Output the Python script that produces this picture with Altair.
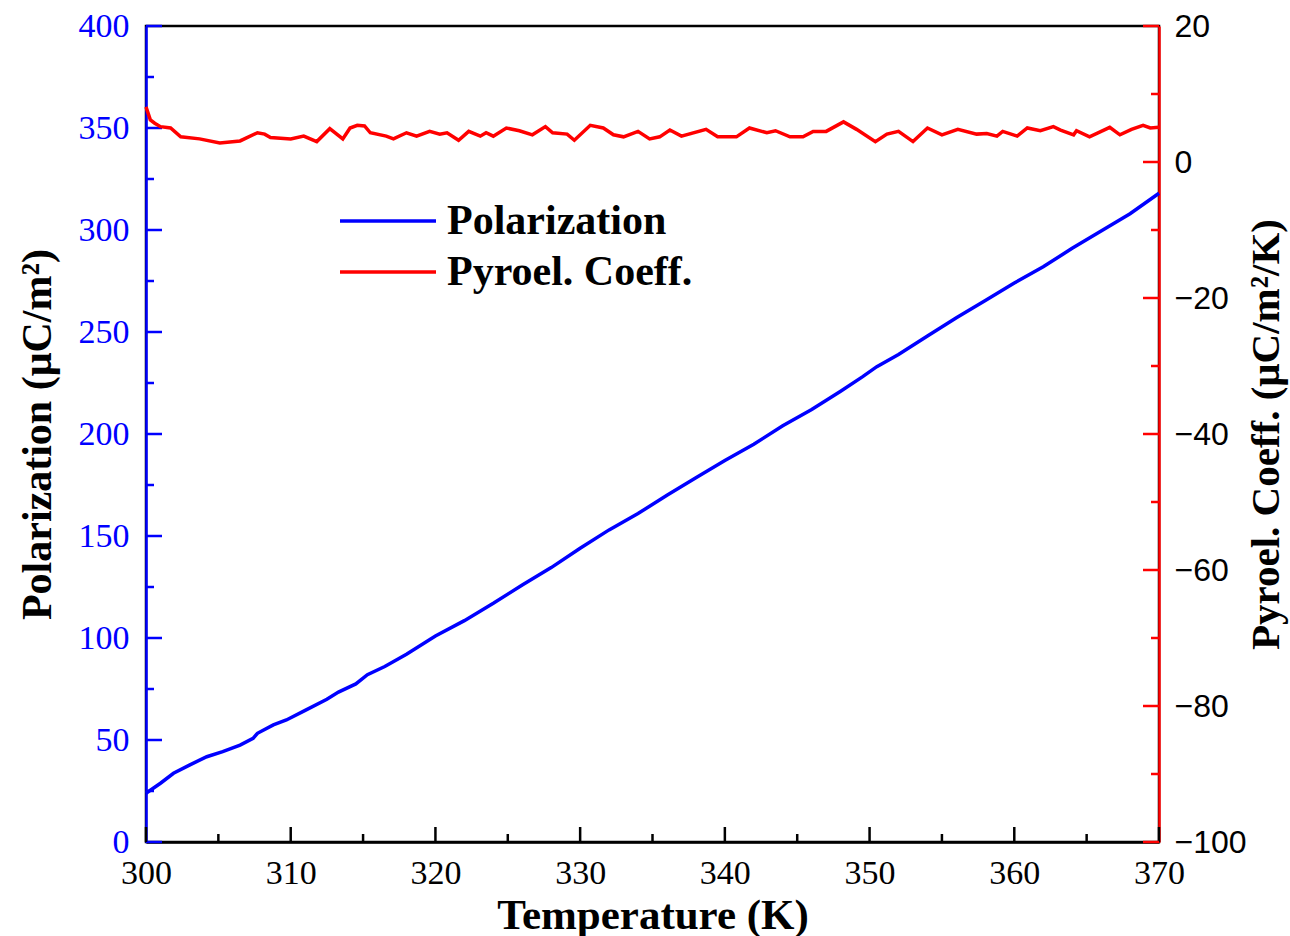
import altair as alt
import pandas as pd

# ---- data ----
temp_pol = [300.0, 301.0, 301.9, 303.0, 304.2, 305.3, 306.5, 307.4, 307.7, 308.8,
            309.7, 311.0, 312.5, 313.3, 314.5, 315.3, 316.5, 318.0, 320.0, 322.0,
            324.0, 326.0, 328.0, 330.0, 332.0, 334.0, 336.0, 338.0, 340.0, 342.0,
            344.0, 346.0, 348.0, 349.5, 350.5, 352.0, 354.0, 356.0, 358.0, 360.0,
            362.0, 364.0, 366.0, 368.0, 370.0]
polarization = [23.9, 28.8, 33.7, 37.7, 41.8, 44.3, 47.5, 50.8, 53.3, 57.4,
                59.8, 64.5, 70.0, 73.5, 77.5, 82.0, 86.0, 92.0, 101.0, 108.5,
                117.0, 126.0, 134.5, 144.0, 153.0, 161.0, 170.0, 178.5, 187.0, 195.0,
                204.0, 212.0, 221.0, 228.0, 233.0, 239.0, 248.0, 257.0, 265.5, 274.0,
                282.0, 291.0, 299.5, 308.0, 318.0]

temp_pyro = [300.0, 300.3, 300.6, 301.0, 301.7, 302.4, 303.7, 305.1, 306.5, 307.7,
             308.2, 308.6, 310.0, 310.9, 311.8, 312.7, 313.6, 314.1, 314.6, 315.1,
             315.5, 316.6, 317.1, 318.0, 318.7, 319.6, 320.3, 320.8, 321.6, 322.3,
             323.1, 323.5, 324.0, 324.9, 325.8, 326.7, 327.6, 328.1, 329.1, 329.6,
             330.7, 331.6, 332.3, 333.0, 334.0, 334.8, 335.5, 336.2, 337.0, 338.7,
             339.5, 340.8, 341.7, 342.9, 343.5, 344.5, 345.4, 346.1, 347.0, 348.2,
             349.1, 350.4, 351.2, 352.0, 353.0, 354.0, 355.0, 356.1, 357.4, 358.1,
             358.8, 359.2, 360.2, 360.9, 361.8, 362.7, 363.2, 364.1, 364.3, 365.2,
             366.6, 367.3, 368.1, 368.9, 369.4, 370.0]
pyro_coeff = [8.1, 6.2, 5.7, 5.2, 5.0, 3.7, 3.4, 2.8, 3.1, 4.3,
              4.1, 3.6, 3.4, 3.8, 3.0, 4.9, 3.4, 5.0, 5.4, 5.3,
              4.3, 3.8, 3.4, 4.3, 3.8, 4.5, 4.1, 4.3, 3.2, 4.5,
              3.8, 4.3, 3.8, 5.0, 4.6, 4.0, 5.2, 4.3, 4.1, 3.2,
              5.4, 5.0, 4.0, 3.7, 4.5, 3.4, 3.7, 4.7, 3.8, 4.8,
              3.7, 3.7, 5.0, 4.3, 4.6, 3.7, 3.7, 4.5, 4.5, 5.9,
              4.8, 3.0, 4.1, 4.5, 3.0, 5.0, 4.0, 4.8, 4.1, 4.2,
              3.8, 4.5, 3.8, 5.0, 4.6, 5.2, 4.7, 4.0, 4.6, 3.7,
              5.1, 4.0, 4.8, 5.4, 5.0, 5.1]

series_names = ["Polarization", "Pyroel. Coeff."]

x_major = [300, 310, 320, 330, 340, 350, 360, 370]
x_minor = [305, 315, 325, 335, 345, 355, 365]
left_major = [0, 50, 100, 150, 200, 250, 300, 350, 400]
left_minor = [25, 75, 125, 175, 225, 275, 325, 375]
right_major = [-100, -80, -60, -40, -20, 0, 20]
right_minor = [-90, -70, -50, -30, -10, 10]

BLUE = "#0000FF"
RED = "#FF0000"
SERIF = "Liberation Serif"
SANS = "Liberation Sans"
W, H = 1013, 816

pol_df = pd.DataFrame({"T": temp_pol, "value": polarization, "series": series_names[0]})
pyro_df = pd.DataFrame({"T": temp_pyro, "value": pyro_coeff, "series": series_names[1]})

xscale = alt.Scale(domain=[300, 370], nice=False, zero=False)
lscale = alt.Scale(domain=[0, 400], nice=False, zero=False)
rscale = alt.Scale(domain=[-100, 20], nice=False, zero=False)

color = alt.Color(
    "series:N",
    scale=alt.Scale(domain=series_names, range=[BLUE, RED]),
    legend=alt.Legend(
        title=None, orient="none", legendX=221, legendY=174,
        symbolType="M-3,0H3", symbolSize=1024, symbolStrokeWidth=3.5,
        labelFont=SERIF, labelFontSize=42, labelFontWeight="bold",
        labelColor="black", labelLimit=0, rowPadding=9, labelOffset=38,
        padding=0,
    ),
)

x_axis = alt.Axis(
    values=x_major, title="Temperature (K)", titleFont=SERIF, titleFontSize=43,
    titleFontWeight="bold", titleColor="black", titlePadding=4,
    labelFont=SERIF, labelFontSize=34, labelColor="black", labelPadding=14,
    labelFlush=False, labelOverlap=False, ticks=False, grid=False,
    domainColor="black", domainWidth=2.5, format="d",
)
left_axis = alt.Axis(
    values=left_major, title="Polarization (μC/m²)", titleFont=SERIF,
    titleFontSize=42, titleFontWeight="bold", titleColor="black", titlePadding=19,
    labelFont=SERIF, labelFontSize=34, labelColor=BLUE, labelPadding=17,
    labelFlush=False, labelOverlap=False, ticks=False, grid=False,
    domainColor=BLUE, domainWidth=2.5, format="d",
)
right_axis = alt.Axis(
    orient="right", values=right_major, title="Pyroel. Coeff. (μC/m²/K)",
    titleFont=SERIF, titleFontSize=41, titleFontWeight="bold", titleColor="black",
    titleAngle=270, titleBaseline="top", titlePadding=0,
    labelFont=SANS, labelFontSize=32, labelColor="black", labelPadding=15,
    labelFlush=False, labelOverlap=False, ticks=False, grid=False,
    domainColor=RED, domainWidth=2.5, format="d",
)

blue_line = alt.Chart(pol_df).mark_line(strokeWidth=3.5).encode(
    x=alt.X("T:Q", scale=xscale, axis=x_axis),
    y=alt.Y("value:Q", scale=lscale, axis=left_axis),
    color=color,
)
red_line = alt.Chart(pyro_df).mark_line(strokeWidth=3.5).encode(
    x=alt.X("T:Q", scale=xscale, axis=x_axis),
    y=alt.Y("value:Q", scale=rscale, axis=right_axis),
    color=color,
)


def xticks(vals, length):
    return alt.Chart(pd.DataFrame({"T": vals})).mark_rule(
        color="black", strokeWidth=2.5
    ).encode(
        x=alt.X("T:Q", scale=xscale, axis=x_axis),
        y=alt.value(H), y2=alt.value(H - length),
    )


def yticks(vals, length, scale, axis, col, side):
    if side == "left":
        xa, xb = 0, length
    else:
        xa, xb = W, W - length
    return alt.Chart(pd.DataFrame({"value": vals})).mark_rule(
        color=col, strokeWidth=2.5
    ).encode(
        y=alt.Y("value:Q", scale=scale, axis=axis),
        x=alt.value(xa), x2=alt.value(xb),
    )


left_group = alt.layer(
    blue_line,
    yticks(left_major, 16, lscale, left_axis, BLUE, "left"),
    yticks(left_minor, 8, lscale, left_axis, BLUE, "left"),
    xticks(x_major, 15),
    xticks(x_minor, 8),
)
right_group = alt.layer(
    red_line,
    yticks(right_major, 16, rscale, right_axis, RED, "right"),
    yticks(right_minor, 8, rscale, right_axis, RED, "right"),
)

chart = alt.layer(left_group, right_group).resolve_scale(
    y="independent"
).properties(
    width=W, height=H,
    autosize=alt.AutoSizeParams(type="none"),
    padding={"left": 146, "top": 26, "right": 131, "bottom": 94},
    background="white",
).configure_view(stroke="black", strokeWidth=2.5)

chart.save("out.html", embed_options={"renderer": "svg", "actions": False})
